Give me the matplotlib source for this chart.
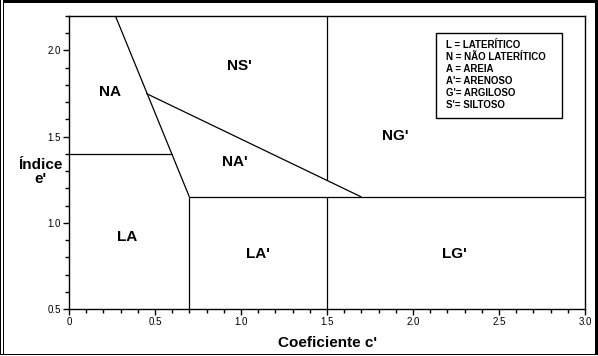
import matplotlib
matplotlib.use("Agg")
import matplotlib.pyplot as plt
from matplotlib.patches import Rectangle
from matplotlib.ticker import MultipleLocator

plt.rcParams['font.family'] = ['Liberation Sans', 'DejaVu Sans']

# boundary lines of the chart (c', e')
diag_c = [0.27, 0.70]
diag_e = [2.20, 1.15]
slant_c = [0.45, 1.70]
slant_e = [1.75, 1.15]
h14_c = [0.0, 0.60]
h14_e = [1.40, 1.40]
h115_c = [0.70, 3.0]
h115_e = [1.15, 1.15]
v07_c = [0.70, 0.70]
v07_e = [0.5, 1.15]
v15top_c = [1.5, 1.5]
v15top_e = [1.246, 2.2]
v15bot_c = [1.5, 1.5]
v15bot_e = [0.5, 1.15]

zone_names = ["NA", "NS'", "NA'", "NG'", "LA", "LA'", "LG'"]
zone_c = [0.24, 0.99, 0.965, 1.895, 0.34, 1.10, 2.24]
zone_e = [1.76, 1.91, 1.35, 1.505, 0.92, 0.82, 0.82]

legend_lines = ["L = LATERÍTICO", "N = NÃO LATERÍTICO", "A = AREIA",
                "A'= ARENOSO", "G'= ARGILOSO", "S'= SILTOSO"]

W, H = 598, 356
fig = plt.figure(figsize=(W/100, H/100), dpi=100)
ax = fig.add_axes([69/W, 1-309/H, 516/W, 293/H])

for xs, ys in [(diag_c, diag_e), (slant_c, slant_e), (h14_c, h14_e),
               (h115_c, h115_e), (v07_c, v07_e), (v15top_c, v15top_e),
               (v15bot_c, v15bot_e)]:
    ax.plot(xs, ys, color='black', lw=0.9, solid_capstyle='butt')

for name, c, e in zip(zone_names, zone_c, zone_e):
    ax.text(c, e, name, ha='center', va='center', fontsize=11, fontweight='bold')

# legend box
x0, x1 = (436-69)/516, (562-69)/516
y0, y1 = (309-118)/293, (309-33)/293
ax.add_patch(Rectangle((x0, y0), x1-x0, y1-y0, transform=ax.transAxes,
                       fc='white', ec='black', lw=1.0, zorder=3))
for i, line in enumerate(legend_lines):
    ax.text((446-69)/516, (309-45-i*12.1)/293, line, transform=ax.transAxes,
            ha='left', va='center', fontsize=7, fontweight='bold', zorder=4)

ax.set_xlim(0, 3.0)
ax.set_ylim(0.5, 2.2)
ax.xaxis.set_minor_locator(MultipleLocator(0.1))
ax.yaxis.set_minor_locator(MultipleLocator(0.1))
ax.set_xticks([0, 0.5, 1.0, 1.5, 2.0, 2.5, 3.0])
ax.set_xticklabels(["0", "0.5", "1.0", "1.5", "2.0", "2.5", "3.0"])
ax.set_yticks([0.5, 1.0, 1.5, 2.0])
ax.set_yticklabels(["0.5", "1.0", "1.5", "2.0"])
ax.tick_params(which='both', direction='out', labelsize=7, width=1)
ax.tick_params(which='major', length=4, pad=2)
ax.tick_params(which='minor', length=3)
for s in ax.spines.values():
    s.set_linewidth(1.0)

ax.set_xlabel("Coeficiente c'", fontsize=11, fontweight='bold', labelpad=6)
fig.text(40/W, 1-172/H, "Índice\ne'", ha='center', va='center',
         fontsize=11, fontweight='bold', linespacing=0.95)

# outer frame, drawn in pixel coordinates
fr = fig.add_axes([0, 0, 1, 1], zorder=-1)
fr.set_xlim(0, W)
fr.set_ylim(H, 0)
fr.axis('off')
fr.add_patch(Rectangle((0, 0), 1.2, 355, fc='black', ec='none'))
fr.add_patch(Rectangle((3, 3), 1.2, 352, fc='black', ec='none'))
fr.add_patch(Rectangle((3, 0), 594, 3, fc='black', ec='none'))
fr.add_patch(Rectangle((594.5, 0), 3, 355, fc='black', ec='none'))
fr.add_patch(Rectangle((0, 353.5), 597, 1.5, fc='black', ec='none'))

fig.savefig("out.png", dpi=100)
